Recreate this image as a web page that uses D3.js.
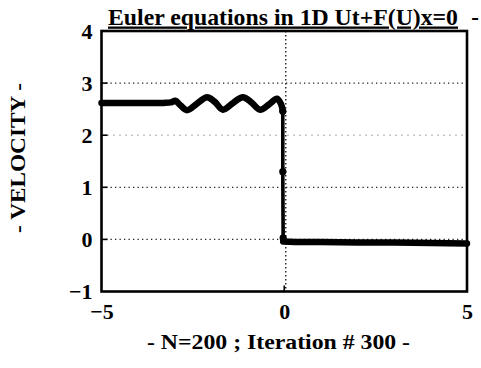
<!DOCTYPE html>
<html>
<head>
<meta charset="utf-8">
<script src="https://cdn.jsdelivr.net/npm/d3@7"></script>
<style>
  html, body { margin: 0; padding: 0; background: #fff; }
  svg { display: block; }
  text { font-family: "Liberation Serif", "Times New Roman", serif; font-weight: bold; fill: #000; }
</style>
</head>
<body>
<svg id="chart" width="481" height="368"></svg>
<script>
// Axis ticks
const xTicks = [-5, 0, 5];
const yTicks = [-1, 0, 1, 2, 3, 4];
const gridYFull = [0, 1, 3];
const gridYFaint = [2];
const gridX = [0];

// Velocity profile, left state with the oscillations behind the shock
const leftX = [-5, -4, -3.3, -3.1, -2.98, -2.85, -2.66, -2.4, -2.11, -1.9, -1.68, -1.4, -1.13, -0.9, -0.66, -0.42, -0.2, -0.09, -0.04];
const leftU = [2.62, 2.62, 2.62, 2.63, 2.66, 2.58, 2.48, 2.60, 2.73, 2.64, 2.49, 2.62, 2.73, 2.63, 2.49, 2.59, 2.70, 2.60, 2.46];

// Points lying on the shock
const shockX = [-0.04, -0.04, -0.03];
const shockU = [2.46, 1.3, 0.03];

// Right state ahead of the shock
const rightX = [-0.03, 0.3, 1, 2, 3, 4, 5];
const rightU = [-0.04, -0.05, -0.05, -0.06, -0.06, -0.07, -0.08];

const svg = d3.select("#chart");
const L = 101.5, R = 467, T = 31, B = 291.5;

const x = d3.scaleLinear().domain([-5, 5]).range([L, R]);
const y = d3.scaleLinear().domain([-1, 4]).range([B, T]);

// Dotted grid
svg.append("g").selectAll("line").data(gridYFull).join("line")
  .attr("x1", L).attr("x2", R)
  .attr("y1", d => y(d)).attr("y2", d => y(d))
  .attr("stroke", "#222").attr("stroke-width", 1.3)
  .attr("stroke-dasharray", "1.3,3.2");
svg.append("g").selectAll("line").data(gridYFaint).join("line")
  .attr("x1", L).attr("x2", R)
  .attr("y1", d => y(d)).attr("y2", d => y(d))
  .attr("stroke", "#555").attr("stroke-width", 1)
  .attr("stroke-dasharray", "1,5");
svg.append("g").selectAll("line").data(gridX).join("line")
  .attr("x1", d => x(d) + 1.5).attr("x2", d => x(d) + 1.5)
  .attr("y1", T).attr("y2", B)
  .attr("stroke", "#222").attr("stroke-width", 1.4)
  .attr("stroke-dasharray", "1.4,2.6");

// Axes: inward ticks, labels outside
const yAxis = d3.axisLeft(y).tickValues(yTicks).tickSize(0).tickPadding(9).tickFormat(d3.format("d"));
const gy = svg.append("g").attr("transform", `translate(${L},0)`).call(yAxis);
gy.select(".domain").remove();
gy.selectAll("text").attr("font-size", 22).attr("dy", "0.34em")
  .style("font-family", '"Liberation Serif", serif').style("font-weight", "bold");

const xAxis = d3.axisBottom(x).tickValues(xTicks).tickSize(0).tickPadding(13).tickFormat(d3.format("d"));
const gx = svg.append("g").attr("transform", `translate(0,${B})`).call(xAxis);
gx.select(".domain").remove();
gx.selectAll("text").attr("font-size", 22).attr("dy", "0.68em")
  .style("font-family", '"Liberation Serif", serif').style("font-weight", "bold");

svg.append("g").selectAll("line").data(yTicks.filter(d => d > -1 && d < 4)).join("line")
  .attr("x1", L).attr("x2", L + 6)
  .attr("y1", d => y(d)).attr("y2", d => y(d))
  .attr("stroke", "#000").attr("stroke-width", 1.6);
svg.append("g").selectAll("line").data(xTicks.filter(d => d > -5 && d < 5)).join("line")
  .attr("x1", d => x(d)).attr("x2", d => x(d))
  .attr("y1", B).attr("y2", B - 6)
  .attr("stroke", "#000").attr("stroke-width", 1.6);

// Frame
svg.append("rect")
  .attr("x", L).attr("y", T).attr("width", R - L).attr("height", B - T)
  .attr("fill", "none").attr("stroke", "#000").attr("stroke-width", 2.6);

// Velocity curve
const line = d3.line().x(d => x(d[0])).y(d => y(d[1]));
const smooth = d3.line().x(d => x(d[0])).y(d => y(d[1])).curve(d3.curveCatmullRom.alpha(0.5));

svg.append("path")
  .datum(leftX.map((v, i) => [v, leftU[i]]))
  .attr("d", smooth)
  .attr("fill", "none").attr("stroke", "#000").attr("stroke-width", 6.5)
  .attr("stroke-linecap", "round").attr("stroke-linejoin", "round");

svg.append("path")
  .datum(shockX.map((v, i) => [v, shockU[i]]))
  .attr("d", line)
  .attr("fill", "none").attr("stroke", "#000").attr("stroke-width", 3.6);

svg.append("g").selectAll("circle").data(shockX.map((v, i) => [v, shockU[i]])).join("circle")
  .attr("cx", d => x(d[0])).attr("cy", d => y(d[1])).attr("r", 3.6).attr("fill", "#000");

svg.append("path")
  .datum(rightX.map((v, i) => [v, rightU[i]]))
  .attr("d", line)
  .attr("fill", "none").attr("stroke", "#000").attr("stroke-width", 6.5)
  .attr("stroke-linecap", "round").attr("stroke-linejoin", "round");

// Titles
svg.append("text")
  .attr("x", 108).attr("y", 24.5)
  .attr("font-size", 23)
  .attr("textLength", 350).attr("lengthAdjust", "spacingAndGlyphs")
  .style("text-decoration", "underline")
  .text("Euler equations in 1D Ut+F(U)x=0");
svg.append("text")
  .attr("x", 475).attr("y", 24.5).attr("text-anchor", "middle")
  .attr("font-size", 23)
  .text("-");

svg.append("text")
  .attr("x", 278.5).attr("y", 349).attr("text-anchor", "middle")
  .attr("font-size", 20)
  .attr("textLength", 263).attr("lengthAdjust", "spacingAndGlyphs")
  .text("- N=200 ; Iteration # 300 -");

svg.append("text")
  .attr("transform", "translate(25,158) rotate(-90)")
  .attr("text-anchor", "middle")
  .attr("font-size", 20)
  .attr("textLength", 150).attr("lengthAdjust", "spacingAndGlyphs")
  .text("- VELOCITY -");
</script>
</body>
</html>
